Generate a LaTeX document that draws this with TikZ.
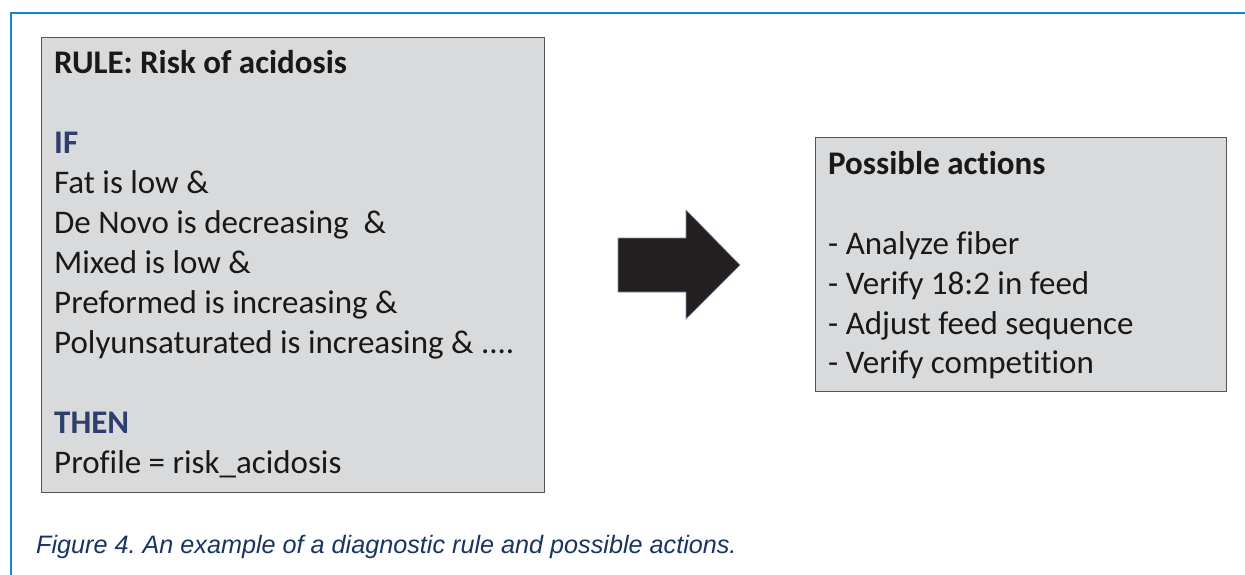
\documentclass[tikz,border=0pt]{standalone}
\usepackage{fontspec}
\setmainfont[Ligatures=CommonOff]{Carlito}
\newfontfamily\capfont{Liberation Sans}
\usetikzlibrary{positioning}
\definecolor{frameblue}{RGB}{18, 132, 208}
\definecolor{panelgray}{RGB}{217, 218, 220}
\definecolor{edgegray}{RGB}{85, 85, 85}
\definecolor{keyblue}{RGB}{47, 62, 108}
\definecolor{capblue}{RGB}{24, 52, 96}
\definecolor{arrowblack}{RGB}{35, 31, 32}

\tikzset{
  panel/.style={draw=edgegray, line width=1.4pt, fill=panelgray, anchor=north west, inner sep=0pt},
  line/.style={anchor=base west, inner sep=0pt, text=black!90, font=\fontsize{33}{40}\selectfont},
  head/.style={line, font=\fontsize{33}{40}\selectfont\bfseries},
  key/.style={head, text=keyblue}
}

\begin{document}
\begin{tikzpicture}[x=1pt, y=-1pt]
  \useasboundingbox (0,0) rectangle (1245,574);

  % frame of the figure
  \draw[frameblue, line width=2.5pt] (11,580) -- (11,13) -- (1250,13);

  % rule box
  \node[panel, minimum width=503pt, minimum height=455pt] (rule) at (41,37) {};
  \node[head] (title) at (54,73) {RULE: Risk of acidosis};
  \node[key]  (if)    at (54,153) {IF};
  \node[line] (fat)   at (54,193) {Fat is low \&};
  \node[line] (novo)  at (54,233) {De Novo is decreasing~~\&};
  \node[line] (mixed) at (54,273) {Mixed is low \&};
  \node[line] (pref)  at (54,313) {Preformed is increasing \&};
  \node[line] (poly)  at (54,353) {Polyunsaturated is increasing \& ....};
  \node[key]  (then)  at (54,433) {THEN};
  \node[line] (prof)  at (54,473) {Profile = risk\_acidosis};

  % block arrow
  \fill[arrowblack, draw=keyblue!60, line width=0.6pt]
    (618,238) -- (686,238) -- (686,210) -- (740,265) -- (686,319) -- (686,292) -- (618,292) -- cycle;

  % actions box
  \node[panel, minimum width=411pt, minimum height=254pt] (actions) at (815,137) {};
  \node[head] (acthead) at (828,174) {Possible actions};
  \node[line] (act1) at (828,254) {- Analyze fiber};
  \node[line] (act2) at (828,294) {- Verify 18:2 in feed};
  \node[line] (act3) at (828,334) {- Adjust feed sequence};
  \node[line] (act4) at (828,373) {- Verify competition};

  % caption
  \node[anchor=base west, inner sep=0pt, text=capblue, font=\capfont\itshape\fontsize{25.2}{30}\selectfont]
    (caption) at (36,553) {Figure 4.\ An example of a diagnostic rule and possible actions.};
\end{tikzpicture}
\end{document}
